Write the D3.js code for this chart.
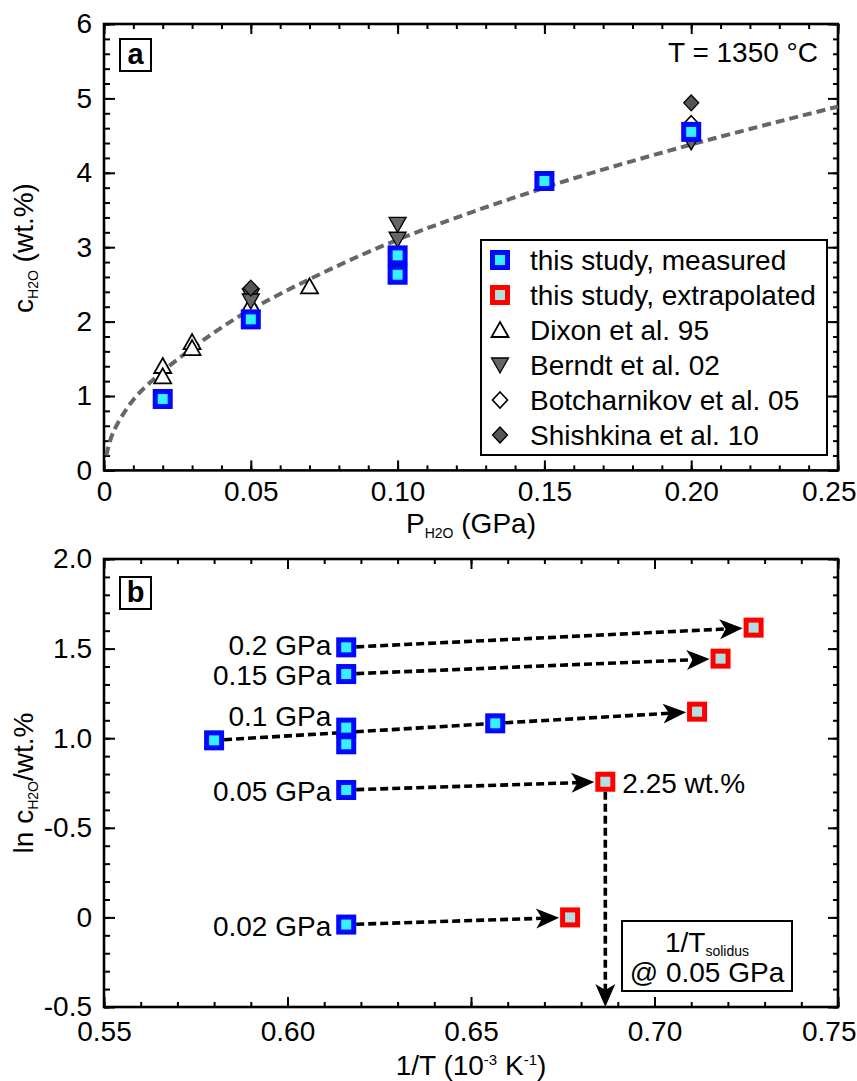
<!DOCTYPE html>
<html>
<head>
<meta charset="utf-8">
<script src="https://cdn.jsdelivr.net/npm/d3@7"></script>
<style>
body { margin: 0; background: #fff; }
text { font-family: "Liberation Sans", Arial, sans-serif; fill: #000; }
</style>
</head>
<body>
<div id="chart"></div>
<script>
// ---- panel a : solubility at 1350 °C ----
const measuredA = [[0.02, 0.96], [0.05, 2.03], [0.10, 2.89], [0.10, 2.63], [0.15, 3.89], [0.20, 4.55]]
const dixon95 = [[0.02, 1.39], [0.02, 1.25], [0.03, 1.71], [0.03, 1.63], [0.05, 2.22], [0.07, 2.46]]
const berndt02 = [[0.05, 2.36], [0.05, 2.29], [0.10, 3.32], [0.10, 3.12], [0.20, 4.43]]
const botcharnikov05 = [[0.20, 4.66]]
const shishkina10 = [[0.05, 2.45], [0.20, 4.94]]
const fitCurve = [[0.0008, 0.2], [0.003, 0.5], [0.01, 0.95], [0.02, 1.33], [0.03, 1.64], [0.04, 1.92],
	[0.05, 2.16], [0.07, 2.57], [0.10, 3.1], [0.15, 3.8], [0.20, 4.38], [0.25, 4.89]]
const xTicksA = [0, 0.05, 0.10, 0.15, 0.20, 0.25]
const xLabelsA = ["0", "0.05", "0.10", "0.15", "0.20", "0.25"]
const yTicksA = [0, 1, 2, 3, 4, 5, 6]
const yLabelsA = ["0", "1", "2", "3", "4", "5", "6"]
const legendLabels = ["this study, measured", "this study, extrapolated", "Dixon et al. 95",
	"Berndt et al. 02", "Botcharnikov et al. 05", "Shishkina et al. 10"]

// ---- panel b : ln c vs 1/T ----
const pressureLabels = ["0.2 GPa", "0.15 GPa", "0.1 GPa", "0.05 GPa", "0.02 GPa"]
const measuredB = [[0.616, 1.507], [0.616, 1.358], [0.580, 0.988], [0.616, 1.059], [0.616, 0.966],
	[0.6566, 1.083], [0.616, 0.711], [0.616, -0.04]]
const extrapolatedB = [[0.727, 1.617], [0.718, 1.444], [0.7116, 1.148], [0.6866, 0.757], [0.677, 0.0]]
const arrowStart = [[0.616, 1.507], [0.616, 1.358], [0.6566, 1.083], [0.616, 0.711], [0.616, -0.04]]
const labelAnchor = [[0.616, 1.507], [0.616, 1.358], [0.616, 1.059], [0.616, 0.711], [0.616, -0.04]]
const linkLine = [[0.580, 0.988], [0.6566, 1.083]]
const solidusLine = [[0.6866, 0.757], [0.6866, -0.5]]
const xTicksB = [0.55, 0.60, 0.65, 0.70, 0.75]
const xLabelsB = ["0.55", "0.60", "0.65", "0.70", "0.75"]
const yTicksB = [2.0, 1.5, 1.0, 0.5, 0, -0.5]
const yLabelsB = ["2.0", "1.5", "1.0", "-0.5", "0", "-0.5"]

const BLUE = "#0008ff", CYAN = "#33f2ff", RED = "#ff0000", PALE = "#b2dfdf"
const WIDTH = 857

const svg = d3.select("#chart").append("svg")
	.attr("width", WIDTH)
	.attr("height", 1081)

const xA = d3.scaleLinear().domain([0, 0.25]).range([104, 838])
const yA = d3.scaleLinear().domain([0, 6]).range([470.4, 24])
const xB = d3.scaleLinear().domain([0.55, 0.75]).range([104, 838])
const yB = d3.scaleLinear().domain([-0.5, 2.0]).range([1007, 559])

function frame(x, y, xMajor, xLab, xMinorStep, yMajor, yLab, yMinorStep, labelPad) {
	const [x0, x1] = x.range(), [y0, y1] = y.range()
	const xd = x.domain(), yd = y.domain()
	const xMinor = d3.range(xd[0], xd[1] + 1e-9, xMinorStep)
	const yMinor = d3.range(yd[0], yd[1] + 1e-9, yMinorStep)
	const g = svg.append("g")

	const style = sel => {
		sel.select(".domain").remove()
		sel.selectAll("line").attr("stroke", "#000").attr("stroke-width", 2)
		sel.selectAll("text").style("font-size", "28px").style("font-family", "'Liberation Sans', Arial, sans-serif")
	}

	const bottom = g.append("g").attr("transform", `translate(0,${y0})`)
		.call(d3.axisBottom(x).tickValues(xMajor).tickSizeInner(-10).tickSizeOuter(0)
			.tickPadding(labelPad).tickFormat((d, i) => xLab[i])).call(style)
	// keep the last label inside the picture
	bottom.selectAll(".tick text").each(function (d) {
		const w = this.getComputedTextLength()
		if (x(d) + w / 2 > WIDTH - 1) {
			d3.select(this).attr("text-anchor", "end").attr("x", WIDTH - 1 - x(d))
		}
	})
	g.append("g").attr("transform", `translate(0,${y0})`)
		.call(d3.axisBottom(x).tickValues(xMinor).tickSizeInner(-5).tickSizeOuter(0).tickFormat("")).call(style)
	g.append("g").attr("transform", `translate(0,${y1})`)
		.call(d3.axisTop(x).tickValues(xMajor).tickSizeInner(-10).tickSizeOuter(0).tickFormat("")).call(style)
	g.append("g").attr("transform", `translate(0,${y1})`)
		.call(d3.axisTop(x).tickValues(xMinor).tickSizeInner(-5).tickSizeOuter(0).tickFormat("")).call(style)

	g.append("g").attr("transform", `translate(${x0},0)`)
		.call(d3.axisLeft(y).tickValues(yMajor).tickSizeInner(-11).tickSizeOuter(0)
			.tickPadding(12).tickFormat((d, i) => yLab[i])).call(style)
	g.append("g").attr("transform", `translate(${x0},0)`)
		.call(d3.axisLeft(y).tickValues(yMinor).tickSizeInner(-6).tickSizeOuter(0).tickFormat("")).call(style)
	g.append("g").attr("transform", `translate(${x1},0)`)
		.call(d3.axisRight(y).tickValues(yMajor).tickSizeInner(-10).tickSizeOuter(0).tickFormat("")).call(style)
	g.append("g").attr("transform", `translate(${x1},0)`)
		.call(d3.axisRight(y).tickValues(yMinor).tickSizeInner(-5).tickSizeOuter(0).tickFormat("")).call(style)

	g.append("rect")
		.attr("x", x0).attr("y", y1)
		.attr("width", x1 - x0).attr("height", y0 - y1)
		.attr("fill", "none").attr("stroke", "#000").attr("stroke-width", 2.6)
}

function square(g, cx, cy, stroke, fill) {
	g.append("rect")
		.attr("x", cx - 7.5).attr("y", cy - 7.5)
		.attr("width", 15).attr("height", 15)
		.attr("fill", fill).attr("stroke", stroke).attr("stroke-width", 5)
}

const triUp = "M0,-9L8.5,6L-8.5,6Z"
const triDown = "M0,9L8.5,-6L-8.5,-6Z"
const diamond = "M0,-8L7.5,0L0,8L-7.5,0Z"

function marker(g, cx, cy, d, fill, sw) {
	g.append("path").attr("d", d)
		.attr("transform", `translate(${cx},${cy})`)
		.attr("fill", fill).attr("stroke", "#000").attr("stroke-width", sw)
}

function panelLetter(letter, y) {
	svg.append("rect").attr("x", 120).attr("y", y).attr("width", 31).attr("height", 32)
		.attr("fill", "#fff").attr("stroke", "#000").attr("stroke-width", 2)
	svg.append("text").attr("x", 135.5).attr("y", y + 25)
		.attr("text-anchor", "middle").style("font-size", "29px").style("font-weight", "bold")
		.text(letter)
}

// ================= panel a =================
frame(xA, yA, xTicksA, xLabelsA, 0.01, yTicksA, yLabelsA, 0.2, 11)
panelLetter("a", 39)

svg.append("text").attr("x", 818).attr("y", 62).attr("text-anchor", "end")
	.style("font-size", "28px").text("T = 1350 °C")

const gA = svg.append("g")

gA.append("path")
	.datum(fitCurve)
	.attr("d", d3.line().x(d => xA(d[0])).y(d => yA(d[1])).curve(d3.curveCatmullRom))
	.attr("fill", "none").attr("stroke", "#666").attr("stroke-width", 4)
	.attr("stroke-dasharray", "9,5")

dixon95.forEach(d => marker(gA, xA(d[0]), yA(d[1]), triUp, "#fff", 1.8))
berndt02.forEach(d => marker(gA, xA(d[0]), yA(d[1]), triDown, "#666", 1.3))
botcharnikov05.forEach(d => marker(gA, xA(d[0]), yA(d[1]), diamond, "#fff", 1.6))
shishkina10.forEach(d => marker(gA, xA(d[0]), yA(d[1]), diamond, "#555", 1.3))
measuredA.forEach(d => square(gA, xA(d[0]), yA(d[1]), BLUE, CYAN))

// legend
const leg = svg.append("g")
leg.append("rect").attr("x", 481).attr("y", 240).attr("width", 346).attr("height", 215)
	.attr("fill", "#fff").attr("stroke", "#000").attr("stroke-width", 2)
legendLabels.forEach((lab, i) => {
	const cy = 260 + i * 35
	if (i === 0) square(leg, 500, cy, BLUE, CYAN)
	else if (i === 1) square(leg, 500, cy, RED, PALE)
	else if (i === 2) marker(leg, 500, cy + 1, triUp, "#fff", 1.8)
	else if (i === 3) marker(leg, 500, cy - 1, triDown, "#666", 1.3)
	else if (i === 4) marker(leg, 500, cy, diamond, "#fff", 1.6)
	else marker(leg, 500, cy, diamond, "#555", 1.3)
	leg.append("text").attr("x", 530).attr("y", cy + 10).style("font-size", "28px").text(lab)
})

// axis titles a
const xtA = svg.append("text").attr("x", 471).attr("y", 533).attr("text-anchor", "middle").style("font-size", "28px")
xtA.append("tspan").text("P")
xtA.append("tspan").attr("dy", 5).style("font-size", "14px").text("H2O")
xtA.append("tspan").attr("dy", -5).text(" (GPa)")

const ytA = svg.append("text").attr("transform", "translate(33,248) rotate(-90)")
	.attr("text-anchor", "middle").style("font-size", "28px")
ytA.append("tspan").text("c")
ytA.append("tspan").attr("dy", 5).style("font-size", "14px").text("H2O")
ytA.append("tspan").attr("dy", -5).text(" (wt.%)")

// ================= panel b =================
frame(xB, yB, xTicksB, xLabelsB, 0.01, yTicksB, yLabelsB, 0.1, 14)
panelLetter("b", 577)

const gB = svg.append("g")

function dashed(p0, p1, gap0, gap1, head) {
	const a = [xB(p0[0]), yB(p0[1])], b = [xB(p1[0]), yB(p1[1])]
	const dx = b[0] - a[0], dy = b[1] - a[1], len = Math.hypot(dx, dy)
	const ux = dx / len, uy = dy / len
	const s = [a[0] + ux * gap0, a[1] + uy * gap0]
	const e = [b[0] - ux * gap1, b[1] - uy * gap1]
	const back = head ? 16 : 0
	gB.append("line")
		.attr("x1", s[0]).attr("y1", s[1])
		.attr("x2", e[0] - ux * back).attr("y2", e[1] - uy * back)
		.attr("stroke", "#000").attr("stroke-width", 3.6).attr("stroke-dasharray", "8,4")
	if (head) {
		const ang = Math.atan2(dy, dx) * 180 / Math.PI
		gB.append("path").attr("d", "M0,0L-23,-10L-17,0L-23,10Z")
			.attr("transform", `translate(${e[0]},${e[1]}) rotate(${ang})`)
			.attr("fill", "#000")
	}
}

dashed(linkLine[0], linkLine[1], 10, 10, false)
arrowStart.forEach((p, i) => dashed(p, extrapolatedB[i], 10, 11, true))
dashed(solidusLine[0], solidusLine[1], 10, 0, true)

measuredB.forEach(d => square(gB, xB(d[0]), yB(d[1]), BLUE, CYAN))
extrapolatedB.forEach(d => square(gB, xB(d[0]), yB(d[1]), RED, PALE))

pressureLabels.forEach((lab, i) => {
	const a = labelAnchor[i]
	const nudge = lab === "0.1 GPa" ? -2 : (i === 0 ? 8 : 11)
	svg.append("text").attr("x", xB(a[0]) - 15).attr("y", yB(a[1]) + nudge)
		.attr("text-anchor", "end").style("font-size", "28px").text(lab)
})

svg.append("text").attr("x", xB(extrapolatedB[3][0]) + 17).attr("y", yB(extrapolatedB[3][1]) + 11)
	.style("font-size", "28px").text("2.25 wt.%")

// solidus box
svg.append("rect").attr("x", 622).attr("y", 921).attr("width", 170).attr("height", 70)
	.attr("fill", "#fff").attr("stroke", "#000").attr("stroke-width", 2)
const sol = svg.append("text").attr("x", 707).attr("y", 952).attr("text-anchor", "middle").style("font-size", "28px")
sol.append("tspan").text("1/T")
sol.append("tspan").attr("dy", 4).style("font-size", "14px").text("solidus")
svg.append("text").attr("x", 707).attr("y", 982).attr("text-anchor", "middle").style("font-size", "28px")
	.text("@ 0.05 GPa")

// axis titles b
const xtB = svg.append("text").attr("x", 471).attr("y", 1075).attr("text-anchor", "middle").style("font-size", "28px")
xtB.append("tspan").text("1/T (10")
xtB.append("tspan").attr("dy", -10).style("font-size", "15px").text("-3")
xtB.append("tspan").attr("dy", 10).text(" K")
xtB.append("tspan").attr("dy", -10).style("font-size", "15px").text("-1")
xtB.append("tspan").attr("dy", 10).text(")")

const ytB = svg.append("text").attr("transform", "translate(33,783) rotate(-90)")
	.attr("text-anchor", "middle").style("font-size", "28px")
ytB.append("tspan").text("ln c")
ytB.append("tspan").attr("dy", 5).style("font-size", "14px").text("H2O")
ytB.append("tspan").attr("dy", -5).text("/wt.%")
</script>
</body>
</html>
